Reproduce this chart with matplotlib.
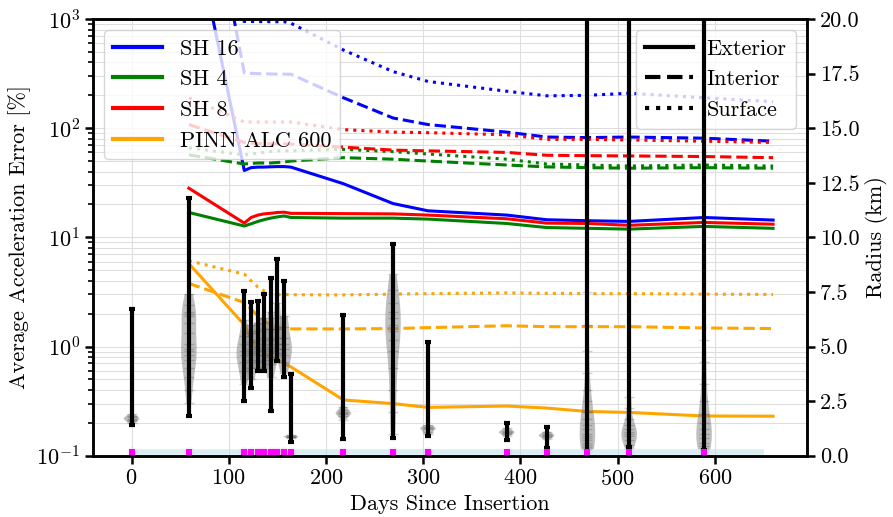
import matplotlib.pyplot as plt
import numpy as np
from matplotlib.lines import Line2D

plt.rcParams.update({
    'font.family': 'serif',
    'font.serif': ['cmr10'],
    'mathtext.fontset': 'cm',
    'axes.formatter.use_mathtext': True,
    'font.size': 16,
    'axes.linewidth': 1.8,
    'xtick.major.width': 1.8,
    'ytick.major.width': 1.8,
    'ytick.minor.width': 1.2,
    'xtick.major.size': 6,
    'ytick.major.size': 6,
    'ytick.minor.size': 3.5,
})

# model error over time (days since insertion)
line_days = [59, 116, 123, 130, 136, 143, 150, 157, 164, 218, 269, 305, 386, 427, 469, 512, 589, 660]

sh16_ext = [11500, 41, 43.5, 44, 44, 44.3, 44.5, 44.5, 44, 31, 20.4, 17.5, 16.0, 14.5, 14.2, 14.0, 15.2, 14.4]
sh16_int = [145000, 321, 318, 316, 315, 314, 313, 313, 312, 190, 124, 108, 92, 83, 82, 83, 81, 76]
sh16_surf = [2000, 950, 950, 948, 947, 946, 945, 945, 915, 520, 330, 268, 218, 198, 200, 209, 190, 175]

sh4_ext = [16.9, 12.7, 13.3, 14.0, 14.5, 15.0, 15.4, 15.7, 15.2, 15.0, 15.0, 14.7, 13.4, 12.3, 12.1, 11.9, 12.6, 12.1]
sh4_int = [57, 47, 47.5, 48, 48, 48, 48.5, 49, 50, 53.7, 52, 50, 46, 44.2, 43.5, 43, 43.5, 43]
sh4_surf = [66, 57, 58, 59, 60, 61, 62, 62, 62, 64, 61, 58, 52, 47, 46, 45, 46, 45]

sh8_ext = [28.2, 13.5, 15.2, 16.0, 16.4, 16.6, 16.9, 17.0, 16.6, 16.5, 16.4, 16.0, 14.8, 13.5, 13.4, 12.9, 13.7, 13.2]
sh8_int = [108, 74, 73, 72.5, 72, 72, 72, 72, 71.5, 67, 63, 62, 60, 56.5, 56, 55.7, 55, 53.7]
sh8_surf = [190, 114, 114, 114, 114, 114, 114, 114, 114, 97, 92, 91, 87, 79, 79, 78, 76, 74]

pinn_ext = [5.75, 1.58, 1.18, 0.93, 0.88, 0.82, 0.75, 0.70, 0.65, 0.324, 0.30, 0.277, 0.285, 0.273, 0.254, 0.249, 0.231, 0.230]
pinn_int = [3.78, 2.53, 2.2, 1.9, 1.72, 1.6, 1.5, 1.45, 1.45, 1.45, 1.46, 1.49, 1.55, 1.52, 1.52, 1.52, 1.48, 1.46]
pinn_surf = [6.1, 4.6, 4.0, 3.5, 3.25, 3.05, 2.98, 3.0, 2.98, 2.97, 3.02, 3.05, 3.1, 3.07, 3.05, 3.05, 3.02, 3.0]

model_names = ['SH 16', 'SH 4', 'SH 8', 'PINN ALC 600']
model_colors = ['blue', 'green', 'red', 'orange']
model_errors = [
    (sh16_ext, sh16_int, sh16_surf),
    (sh4_ext, sh4_int, sh4_surf),
    (sh8_ext, sh8_int, sh8_surf),
    (pinn_ext, pinn_int, pinn_surf),
]
region_names = ['Exterior', 'Interior', 'Surface']
region_styles = ['-', '--', ':']

# spacecraft radius per data arc (km)
obs_days = [0, 59, 116, 123, 130, 136, 143, 150, 157, 164, 218, 269, 305, 386, 427, 469, 512, 589]
radius_min = [1.40, 1.80, 2.49, 3.08, 3.89, 3.86, 2.03, 4.32, 3.62, 0.61, 0.76, 0.81, 0.92, 0.74, 0.35, 0.23, 0.38, 0.25]
radius_max = [6.71, 11.78, 7.55, 7.02, 7.07, 7.40, 8.12, 9.00, 8.00, 3.75, 6.45, 9.69, 5.19, 1.49, 1.30, 35.0, 35.0, 35.0]
radius_samples = [
    [1.5, 1.6, 1.65, 1.7, 1.75, 1.8, 1.9],
    [2.4, 3.0, 3.6, 4.0, 4.4, 4.6, 4.8, 4.9, 5.1, 5.6, 6.1, 6.4, 6.5, 6.6, 6.9, 7.4],
    [3.3, 3.9, 4.3, 4.6, 4.8, 5.1, 5.5, 6.2],
    [3.5, 4.0, 4.4, 4.7, 4.9, 5.2, 5.6, 6.0],
    [4.0, 4.3, 4.6, 4.8, 5.0, 5.3, 5.7, 6.1],
    [4.0, 4.4, 4.6, 4.9, 5.1, 5.4, 5.8, 6.3],
    [3.6, 4.2, 4.5, 4.8, 5.0, 5.3, 5.8, 6.6],
    [4.4, 4.7, 4.9, 5.1, 5.4, 5.8, 6.3, 7.0],
    [3.8, 4.3, 4.6, 4.9, 5.1, 5.4, 5.9, 6.4],
    [0.8, 0.85, 0.87, 0.9, 0.95],
    [1.65, 1.8, 1.9, 1.95, 2.0, 2.1, 2.25],
    [1.0, 2.0, 3.0, 4.0, 4.8, 5.3, 5.7, 6.0, 6.3, 6.6, 7.0, 7.6, 8.3],
    [1.0, 1.1, 1.2, 1.25, 1.3, 1.4],
    [0.9, 1.0, 1.05, 1.1, 1.15, 1.25],
    [0.75, 0.85, 0.9, 0.95, 1.0, 1.1],
    [0.3, 0.4, 0.5, 0.6, 0.7, 0.8, 0.9, 1.0, 1.2, 1.4, 1.7, 2.0, 2.5, 3.0, 3.8, 4.8, 6.0, 7.5],
    [0.35, 0.5, 0.7, 0.9, 1.0, 1.1, 1.2, 1.4, 1.7, 2.2, 2.7],
    [0.3, 0.45, 0.6, 0.8, 1.0, 1.2, 1.5, 1.9, 2.5, 3.3, 4.3, 5.3],
]
mission_span = [-3, 651]

fig = plt.figure(figsize=(8.93, 5.17), dpi=100)
ax = fig.add_axes([0.1045, 0.1186, 0.7989, 0.8446])
ax2 = ax.twinx()

for color, errs in zip(model_colors, model_errors):
    for vals, ls in zip(errs, region_styles):
        ax.plot(line_days, vals, color=color, linestyle=ls, lw=2.2)

ax.set_yscale('log')
ax.set_ylim(1e-1, 1e3)
ax.set_xlim(-39.3, 694.6)
ax.set_xticks([0, 100, 200, 300, 400, 500, 600])
ax.grid(which='both', color='0.87', lw=0.8)
ax.set_xlabel('Days Since Insertion')
ax.set_ylabel('Average Acceleration Error [%]')

color_handles = [Line2D([0], [0], color=c, lw=3) for c in model_colors]
leg1 = ax.legend(color_handles, model_names, loc='upper left', handlelength=2.2)
ax.add_artist(leg1)
style_handles = [Line2D([0], [0], color='k', ls=ls, lw=3) for ls in region_styles]
ax.legend(style_handles, region_names, loc='upper right', handlelength=2.2,
          handletextpad=0.6)

# radius distributions on the right axis
marker_level = 0.17
ax2.plot(mission_span, [marker_level, marker_level], color='lightblue', lw=4, alpha=0.45,
         solid_capstyle='butt')
parts = ax2.violinplot(radius_samples, positions=obs_days, widths=16, bw_method=0.5,
                       showextrema=False)
for body in parts['bodies']:
    body.set_facecolor('gray')
    body.set_edgecolor('none')
    body.set_alpha(0.5)
for d, s in zip(obs_days, radius_samples):
    ax2.plot([d] * len(s), s, '_', color='k', alpha=0.18, ms=7)
ax2.vlines(obs_days, radius_min, radius_max, color='k', lw=3)
ax2.plot(obs_days, radius_min, '_', color='k', ms=5, mew=3)
ax2.plot(obs_days, radius_max, '_', color='k', ms=5, mew=3)
ax2.scatter(obs_days, [marker_level] * len(obs_days), marker='o', s=55, color='violet',
            alpha=0.18, lw=0)
ax2.scatter(obs_days, [marker_level] * len(obs_days), marker='s', s=20, color='magenta',
            lw=0, zorder=5)

ax2.set_ylim(0, 20)
radius_ticks = [0, 2.5, 5, 7.5, 10, 12.5, 15, 17.5, 20]
ax2.set_yticks(radius_ticks)
ax2.set_yticklabels(['%.1f' % v for v in radius_ticks])
ax2.set_ylabel('Radius (km)')

fig.savefig('out.png', dpi=100)
